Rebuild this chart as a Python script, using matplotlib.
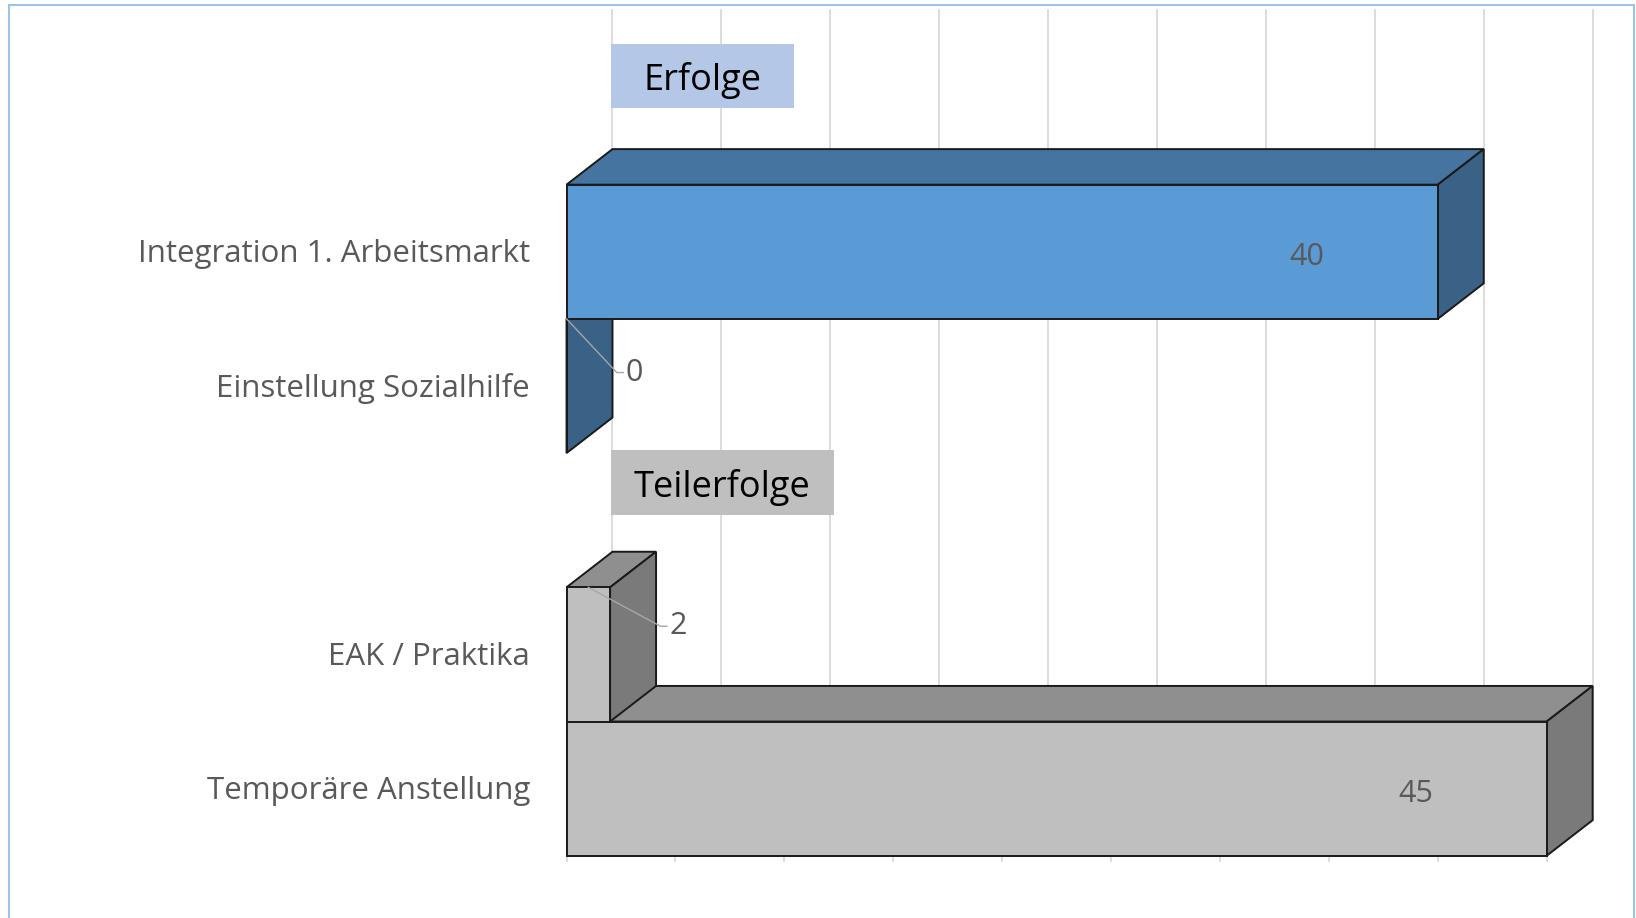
import matplotlib.pyplot as plt
from matplotlib.patches import Polygon, Rectangle

# chart data
categories = ["Integration 1. Arbeitsmarkt", "Einstellung Sozialhilfe",
              "EAK / Praktika", "Temporäre Anstellung"]
values = [40, 0, 2, 45]
groups = ["Erfolge", "Erfolge", "Teilerfolge", "Teilerfolge"]
group_names = ["Erfolge", "Teilerfolge"]
axis_ticks = list(range(0, 50, 5))

# front / top / side colours for the 3d boxes
face_colors = {
    "Erfolge": ("#5B9BD5", "#44749F", "#3A6186"),
    "Teilerfolge": ("#BFBFBF", "#8F8F8F", "#7A7A7A"),
}
header_colors = {"Erfolge": "#B4C7E7", "Teilerfolge": "#BFBFBF"}

W, H = 1636, 918
dx, dy = 2.11, 0.265  # depth offset (value units, slot units)
edge = "#1A1A1A"
label_font = ["Open Sans", "DejaVu Sans"]

fig = plt.figure(figsize=(W / 100, H / 100), dpi=100)
ax = fig.add_axes([0, 0, 1, 1])
ax.set_xlim(-26.01, 49.10)
ax.set_ylim(4.964, -1.876)
ax.axis("off")

# slot of every category, one empty slot between groups
slots = []
pos = 0
for g in group_names:
    for grp in groups:
        if grp == g:
            slots.append(pos)
            pos += 1
    pos += 1

bottom_all = max(slots) + 0.5

# back wall gridlines
for t in axis_ticks:
    ax.plot([t + dx, t + dx], [-1.798, bottom_all - dy], color="#D9D9D9", lw=1.3, zorder=1)

# floor front edge with ticks
ax.plot([0, axis_ticks[-1]], [bottom_all, bottom_all], color="#D9D9D9", lw=1.3, zorder=1)
for t in axis_ticks:
    ax.plot([t, t], [bottom_all, bottom_all + 0.04], color="#D9D9D9", lw=1.3, zorder=1)


def draw_box(y, v, colors, z):
    front, top, side = colors
    y0 = y - 0.5
    ax.add_patch(Polygon([(0, y0), (v, y0), (v + dx, y0 - dy), (dx, y0 - dy)],
                         closed=True, fc=top, ec=edge, lw=1.4, zorder=z))
    ax.add_patch(Polygon([(v, y0), (v, y0 + 1), (v + dx, y0 + 1 - dy), (v + dx, y0 - dy)],
                         closed=True, fc=side, ec=edge, lw=1.4, zorder=z))
    ax.add_patch(Rectangle((0, y0), v, 1, fc=front, ec=edge, lw=1.4, zorder=z))


# draw from the bottom up so upper boxes cover lower ones
order = sorted(range(len(values)), key=lambda i: -slots[i])
for k, i in enumerate(order):
    draw_box(slots[i], values[i], face_colors[groups[i]], 2 + k)

# data labels
for i, v in enumerate(values):
    y = slots[i]
    if v >= 10:
        ax.text(v - 6, y + 0.04, str(v), ha="center", va="center",
                fontsize=22, color="#595959", family=label_font, zorder=20)
    else:
        ex = v + dx + 0.2
        ey = y - 0.1 - 0.055 * v
        ax.plot([v / 2, ex, ex + 0.3], [y - 0.5, ey, ey], color="#A6A6A6", lw=1, zorder=20)
        ax.text(ex + 0.4, ey, str(v), ha="left", va="center",
                fontsize=22, color="#595959", family=label_font, zorder=20)

# category labels
for c, y in zip(categories, slots):
    ax.text(-1.68, y + 0.02, c, ha="right", va="center", fontsize=22.5,
            color="#595959", family=label_font)

# group headers
header_width = {"Erfolge": 8.4, "Teilerfolge": 10.24}
for gi, g in enumerate(group_names):
    first = min(s for s, grp in zip(slots, groups) if grp == g)
    cy = first - 1.31 + 0.03 * gi
    w = header_width[g]
    ax.add_patch(Rectangle((2.04, cy - 0.24), w, 0.48, fc=header_colors[g], ec="none", zorder=20))
    ax.text(2.04 + w / 2, cy + 0.035, g, ha="center", va="center", fontsize=26,
            color="black", family=label_font, zorder=21)

# outer frame
fig.patches.append(Rectangle((9 / W, -0.05), (1634 - 9) / W, 1.05 - 5 / H,
                             transform=fig.transFigure, fill=False,
                             ec="#9DC3E6", lw=1.5))

fig.savefig("out.png", dpi=100)
